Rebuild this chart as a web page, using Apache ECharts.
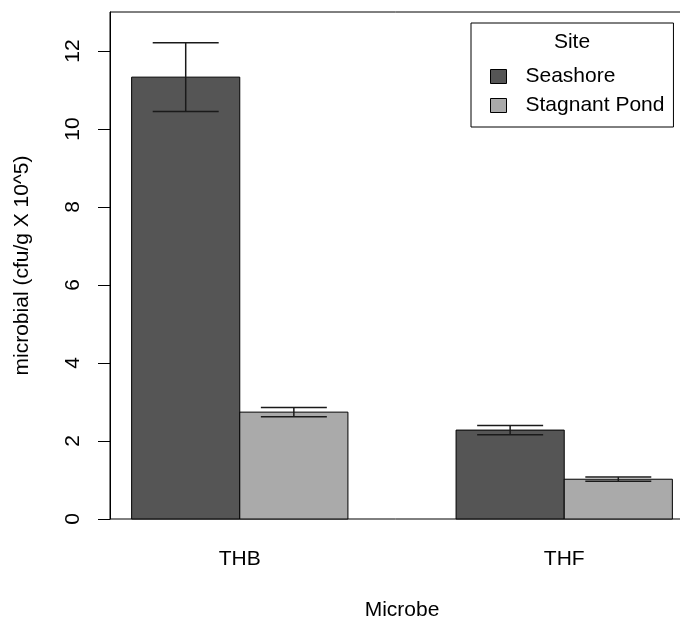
<!DOCTYPE html>
<html>
<head>
<meta charset="utf-8">
<script src="https://cdn.jsdelivr.net/npm/echarts@6/dist/echarts.min.js"></script>
<style>
html,body{margin:0;padding:0;background:#fff;}
#chart{width:680px;height:621px;}
</style>
</head>
<body>
<div id="chart"></div>
<script>
// ---- data ----
var categories = ['THB', 'THF'];
var sites = ['Seashore', 'Stagnant Pond'];
var seashoreMean = [11.33, 2.28];
var seashoreSE = [0.88, 0.12];
var pondMean = [2.74, 1.02];
var pondSE = [0.12, 0.055];
var yTicks = [0, 2, 4, 6, 8, 10, 12];
var legendTitle = 'Site';
var xTitle = 'Microbe';
var yTitle = 'microbial (cfu/g X 10^5)';

// ---- styling ----
var colors = ['#555555', '#aaaaaa'];
var FONT = 'Liberation Sans, Arial, sans-serif';
var FS = 21;

// R barplot(beside=TRUE) layout: bars width 1, space c(0,1)
function barX(groupIdx, barIdx) { return 1.5 + groupIdx * 3 + barIdx; }
var catPositions = categories.map(function (c, i) { return (barX(i, 0) + barX(i, 1)) / 2; });

function seriesData(means, ses, barIdx) {
  return means.map(function (m, i) { return [barX(i, barIdx), m, ses[i]]; });
}

function renderBar(params, api) {
  var x = api.value(0), m = api.value(1), se = api.value(2);
  var p0 = api.coord([x - 0.5, 0]);
  var p1 = api.coord([x + 0.5, m]);
  var capHalf = 0.305;
  var top = api.coord([x, m + se]);
  var bot = api.coord([x, m - se]);
  var cl = api.coord([x - capHalf, m])[0];
  var cr = api.coord([x + capHalf, m])[0];
  var eStyle = { stroke: '#1a1a1a', lineWidth: 1.5 };
  return {
    type: 'group',
    children: [
      { type: 'rect', shape: { x: p0[0], y: p1[1], width: p1[0] - p0[0], height: p0[1] - p1[1] },
        style: { fill: api.visual('color'), stroke: '#000', lineWidth: 1 } },
      { type: 'line', shape: { x1: top[0], y1: top[1], x2: bot[0], y2: bot[1] }, style: eStyle },
      { type: 'line', shape: { x1: cl, y1: top[1], x2: cr, y2: top[1] }, style: eStyle },
      { type: 'line', shape: { x1: cl, y1: bot[1], x2: cr, y2: bot[1] }, style: eStyle }
    ]
  };
}

var chart = echarts.init(document.getElementById('chart'), null, { renderer: 'canvas' });
chart.setOption({
  animation: false,
  backgroundColor: '#ffffff',
  textStyle: { fontFamily: FONT },
  grid: {
    left: 110, top: 12, width: 584, height: 507,
    outerBoundsMode: 'none', containLabel: false,
    show: true, borderColor: '#000', borderWidth: 1, backgroundColor: 'transparent'
  },
  xAxis: {
    type: 'value', min: 0.8, max: 6.2,
    axisLine: { show: false },
    axisTick: { show: false },
    splitLine: { show: false },
    axisLabel: {
      customValues: catPositions,
      formatter: function (v) {
        var i = catPositions.indexOf(v);
        return i >= 0 ? categories[i] : '';
      },
      color: '#000', fontSize: FS, fontFamily: FONT, margin: 30
    },
    name: xTitle, nameLocation: 'middle', nameGap: 81,
    nameTextStyle: { color: '#000', fontSize: FS, fontFamily: FONT }
  },
  yAxis: {
    type: 'value', min: 0, max: 13,
    axisLine: { show: true, lineStyle: { color: '#000', width: 1 } },
    axisTick: { show: true, customValues: yTicks, length: 12, lineStyle: { color: '#000', width: 1 } },
    splitLine: { show: false },
    axisLabel: {
      customValues: yTicks, rotate: 90, margin: 26,
      color: '#000', fontSize: FS, fontFamily: FONT
    },
    name: yTitle, nameLocation: 'middle', nameGap: 77,
    nameTextStyle: { color: '#000', fontSize: FS, fontFamily: FONT }
  },
  legend: {
    orient: 'vertical', left: 471, top: 23,
    padding: [43, 9, 11, 19],
    itemWidth: 16, itemHeight: 14, itemGap: 8,
    borderColor: '#000', borderWidth: 1,
    selectedMode: false,
    icon: 'rect',
    textStyle: { color: '#000', fontSize: FS, fontFamily: FONT, lineHeight: 21, padding: [0, 0, 0, 14] },
    data: sites.map(function (s, i) {
      return { name: s, itemStyle: { color: colors[i], borderColor: '#000', borderWidth: 1 } };
    })
  },
  graphic: [
    { type: 'text', x: 572, y: 42,
      style: { text: legendTitle, fill: '#000', font: FS + 'px ' + FONT, textAlign: 'center', textVerticalAlign: 'middle' } }
  ],
  series: [
    { type: 'custom', name: sites[0], renderItem: renderBar, encode: { x: 0, y: 1 },
      itemStyle: { color: colors[0] }, data: seriesData(seashoreMean, seashoreSE, 0), clip: false },
    { type: 'custom', name: sites[1], renderItem: renderBar, encode: { x: 0, y: 1 },
      itemStyle: { color: colors[1] }, data: seriesData(pondMean, pondSE, 1), clip: false }
  ]
});
</script>
</body>
</html>
